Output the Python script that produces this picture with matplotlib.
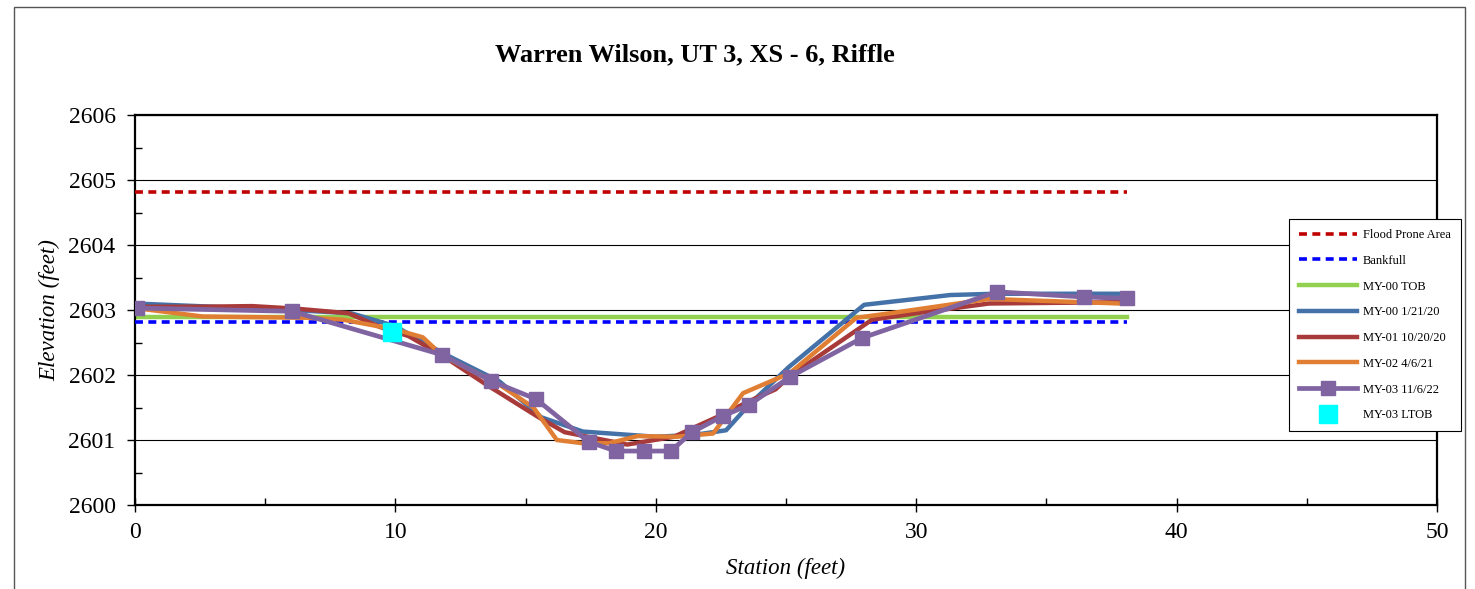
import matplotlib
matplotlib.use("Agg")
import matplotlib.pyplot as plt
from matplotlib.patches import Rectangle
from matplotlib.ticker import MultipleLocator

plt.rcParams['font.family'] = ['Liberation Serif', 'DejaVu Serif']

title = "Warren Wilson, UT 3, XS - 6, Riffle"

flood_x = [0, 38.1]
flood_y = [2604.82, 2604.82]
bank_x = [0, 38.1]
bank_y = [2602.82, 2602.82]
tob_x = [0, 38.1]
tob_y = [2602.89, 2602.89]

my00_x = [0, 3, 6, 8.3, 10, 11.3, 12, 14, 15.6, 17.2, 20.0, 21.5, 22.7, 23.6, 25.1, 28.0, 31.3, 33.0, 37.8]
my00_y = [2603.10, 2603.05, 2603.0, 2602.95, 2602.75, 2602.45, 2602.3, 2601.9, 2601.35, 2601.13,
          2601.05, 2601.08, 2601.15, 2601.55, 2602.12, 2603.08, 2603.23, 2603.25, 2603.25]

my01_x = [0, 2.5, 4.5, 6.2, 8.2, 9.4, 10.5, 11.8, 13.5, 15.5, 16.5, 18.9, 20.7, 21.4, 22.5, 23.6,
          24.6, 25.2, 28.3, 30, 32.8, 37.8]
my01_y = [2603.05, 2603.05, 2603.06, 2603.02, 2602.95, 2602.74, 2602.6, 2602.3, 2601.85, 2601.35,
          2601.12, 2600.93, 2601.05, 2601.18, 2601.38, 2601.6, 2601.78, 2602.0, 2602.85, 2602.95,
          2603.1, 2603.12]

my02_x = [0, 2.6, 6.7, 8, 10, 11.05, 11.8, 14, 15.3, 16.2, 17.2, 18.2, 19.3, 20.8, 22.2, 23.35,
          25.15, 27.7, 29, 32.8, 37.8]
my02_y = [2603.03, 2602.9, 2602.88, 2602.85, 2602.7, 2602.58, 2602.3, 2601.85, 2601.5, 2601.0,
          2600.95, 2600.95, 2601.06, 2601.05, 2601.1, 2601.72, 2602.03, 2602.88, 2602.95, 2603.17,
          2603.1]

my03_x = [0.08, 6.03, 11.8, 13.67, 15.4, 17.43, 18.47, 19.55, 20.58, 21.39, 22.58, 23.58, 25.15,
          27.92, 33.1, 36.44, 38.1]
my03_y = [2603.03, 2602.98, 2602.31, 2601.91, 2601.63, 2600.97, 2600.83, 2600.83, 2600.83, 2601.12,
          2601.37, 2601.54, 2601.97, 2602.57, 2603.28, 2603.2, 2603.18]

ltob_x = [9.87]
ltob_y = [2602.66]

fig = plt.figure(figsize=(14.75, 5.89), dpi=100)
ax = fig.add_axes([135/1475, 1-505/589, (1437-135)/1475, (505-115)/589])

ax.plot(flood_x, flood_y, color='#C00000', lw=2.6, ls=(0, (2.2, 1.5)), label='Flood Prone Area', zorder=3)
ax.plot(bank_x, bank_y, color='#0000FF', lw=2.6, ls=(0, (2.2, 1.5)), label='Bankfull', zorder=3)
ax.plot(tob_x, tob_y, color='#92D050', lw=3.2, label='MY-00 TOB', zorder=2)
ax.plot(my00_x, my00_y, color='#4472A8', lw=3.2, label='MY-00 1/21/20', zorder=4)
ax.plot(my01_x, my01_y, color='#A83A3A', lw=3.2, label='MY-01 10/20/20', zorder=5)
ax.plot(my02_x, my02_y, color='#E07E33', lw=3.2, label='MY-02 4/6/21', zorder=6)
ax.plot(my03_x, my03_y, color='#8064A2', lw=3.4, marker='s', ms=9.5, label='MY-03 11/6/22', zorder=7)
ax.plot(ltob_x, ltob_y, color='#00FFFF', ls='none', marker='s', ms=13, label='MY-03 LTOB', zorder=8)

ax.set_xlim(0, 50)
ax.set_ylim(2600, 2606)
ax.xaxis.set_major_locator(MultipleLocator(10))
ax.xaxis.set_minor_locator(MultipleLocator(5))
ax.yaxis.set_major_locator(MultipleLocator(1))
ax.yaxis.set_minor_locator(MultipleLocator(0.5))
ax.grid(True, which='major', axis='y', color='black', lw=0.8)
ax.tick_params(axis='x', which='major', direction='inout', length=10, width=1, labelsize=17, pad=7)
ax.tick_params(axis='x', which='minor', direction='in', length=5, width=1)
ax.tick_params(axis='y', which='major', direction='out', length=6, width=1, labelsize=17, pad=8)
ax.tick_params(axis='y', which='minor', direction='in', length=5, width=1)
for s in ax.spines.values():
    s.set_linewidth(1.6)
ax.yaxis.get_major_formatter().set_useOffset(False)

ax.set_xlabel('Station (feet)', fontsize=16.5, style='italic', labelpad=11)
ax.set_ylabel('Elevation (feet)', fontsize=16.5, style='italic', labelpad=6)

fig.text(695/1475, 1-55/589, title, fontsize=19, fontweight='bold', ha='center', va='center')

leg = ax.legend(loc='upper left', bbox_to_anchor=(1289/1475, 1-219/589), bbox_transform=fig.transFigure,
                fontsize=9, frameon=True, fancybox=False, edgecolor='black', framealpha=1,
                borderpad=0.8, labelspacing=1.1, handlelength=4.6, handletextpad=0.5,
                borderaxespad=0)
leg.get_frame().set_linewidth(0.8)
leg.set_zorder(20)

fig.patches.append(Rectangle((14/1475, -0.05), (1465-14)/1475, 1-7/589+0.05, transform=fig.transFigure,
                             fill=False, edgecolor='#555555', lw=1.0))

fig.savefig('out.png', dpi=100)
